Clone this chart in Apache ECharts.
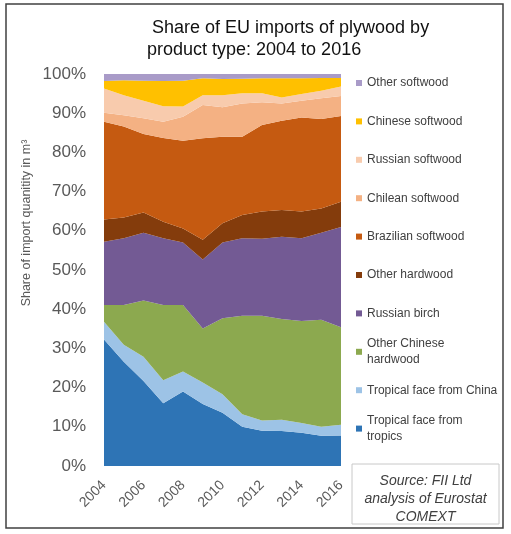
<!DOCTYPE html>
<html>
<head>
<meta charset="utf-8">
<title>Share of EU imports of plywood by product type: 2004 to 2016</title>
<script src="https://cdn.jsdelivr.net/npm/echarts@6/dist/echarts.min.js"></script>
<style>
html, body { margin: 0; padding: 0; background: #fff; }
#chart { width: 511px; height: 534px; }
</style>
</head>
<body>
<div id="chart"></div>
<script>
var FONT = '"Liberation Sans", Arial, sans-serif';

// categories
var years = ['2004', '2005', '2006', '2007', '2008', '2009', '2010',
             '2011', '2012', '2013', '2014', '2015', '2016'];

// shares of import quantity, % (bottom band first)
var tropicalFaceFromTropics = [32.3, 26.6, 21.7, 16.0, 19.0, 15.8, 13.6, 10.0, 9.0, 8.9, 8.5, 7.7, 7.8];
var tropicalFaceFromChina   = [4.5, 4.3, 6.2, 5.9, 5.1, 5.5, 4.7, 3.2, 2.6, 2.9, 2.5, 2.3, 2.7];
var otherChineseHardwood    = [4.3, 10.2, 14.3, 19.2, 17.0, 13.8, 19.4, 25.1, 26.7, 25.7, 26.0, 27.3, 24.9];
var russianBirch            = [16.1, 17.0, 17.3, 17.0, 15.9, 17.6, 19.3, 19.8, 19.7, 21.0, 21.1, 22.2, 25.6];
var otherHardwood           = [5.7, 5.3, 5.2, 4.2, 3.6, 5.0, 4.9, 5.9, 6.9, 6.8, 6.8, 6.2, 6.4];
var brazilianSoftwood       = [24.9, 23.2, 20.0, 21.4, 22.4, 25.9, 22.1, 20.0, 22.1, 22.8, 24.0, 22.8, 21.9];
var chileanSoftwood         = [2.3, 2.9, 4.0, 4.1, 6.1, 8.5, 7.5, 8.5, 5.8, 4.4, 4.3, 5.3, 5.1];
var russianSoftwood         = [6.2, 5.1, 4.5, 4.0, 2.6, 2.5, 3.1, 2.6, 2.3, 1.5, 1.7, 1.9, 2.4];
var chineseSoftwood         = [1.9, 3.8, 5.1, 6.4, 6.6, 4.3, 4.1, 3.7, 3.8, 4.9, 4.0, 3.3, 2.2];
var otherSoftwood           = [1.8, 1.6, 1.7, 1.8, 1.7, 1.1, 1.3, 1.2, 1.1, 1.1, 1.1, 1.0, 1.0];

// stacking order (bottom -> top)
var seriesNames = [
    'Tropical face from tropics', 'Tropical face from China', 'Other Chinese hardwood',
    'Russian birch', 'Other hardwood', 'Brazilian softwood', 'Chilean softwood',
    'Russian softwood', 'Chinese softwood', 'Other softwood'
];
var seriesData = [
    tropicalFaceFromTropics, tropicalFaceFromChina, otherChineseHardwood,
    russianBirch, otherHardwood, brazilianSoftwood, chileanSoftwood,
    russianSoftwood, chineseSoftwood, otherSoftwood
];
var seriesColors = [
    '#2e74b5', '#9dc3e6', '#8ca94f', '#735a94', '#843c0c',
    '#c55a11', '#f4b183', '#f8cbad', '#ffc000', '#a99bc8'
];

// legend reads top -> bottom, two names wrap
var wrapped = {
    'Other Chinese hardwood': 'Other Chinese\nhardwood',
    'Tropical face from tropics': 'Tropical face from\ntropics'
};
var legendNames = seriesNames.slice().reverse();

var legends = legendNames.map(function (name, i) {
    var centerY = 83 + i * 38.4;
    var isWrapped = !!wrapped[name];
    return {
        data: [name],
        left: 356,
        top: isWrapped ? centerY - 24 : centerY - 8,
        padding: 0,
        icon: 'rect',
        itemWidth: 6,
        itemHeight: 6,
        selectedMode: false,
        formatter: function (n) { return wrapped[n] || n; },
        textStyle: {
            fontFamily: FONT,
            fontSize: 12,
            color: '#404040',
            lineHeight: 16,
            padding: isWrapped ? [16, 0, 0, 0] : 0
        }
    };
});

var chart = echarts.init(document.getElementById('chart'), null, { renderer: 'canvas' });

var option = {
    backgroundColor: '#fff',
    animation: false,
    color: seriesColors,
    title: {
        text: ' Share of EU imports of plywood by\nproduct type: 2004 to 2016',
        left: 147,
        top: 17,
        padding: 0,
        textStyle: {
            fontFamily: FONT,
            fontSize: 18,
            fontWeight: 'normal',
            color: '#111',
            lineHeight: 22
        }
    },
    legend: legends,
    grid: { left: 104, right: 170, top: 74, bottom: 68, containLabel: false },
    xAxis: {
        type: 'category',
        data: years,
        boundaryGap: false,
        axisLine: { show: false },
        axisTick: { show: false },
        axisLabel: {
            interval: 1,
            rotate: 45,
            margin: 17,
            fontFamily: FONT,
            fontSize: 14,
            color: '#595959'
        }
    },
    yAxis: {
        type: 'value',
        min: 0,
        max: 100,
        interval: 10,
        splitLine: { show: false },
        axisLine: { show: false },
        axisTick: { show: false },
        axisLabel: {
            formatter: '{value}%',
            margin: 18,
            fontFamily: FONT,
            fontSize: 17,
            color: '#595959'
        },
        name: 'Share of import quanitity in m\u00b3',
        nameLocation: 'middle',
        nameRotate: 90,
        nameGap: 71,
        nameTextStyle: {
            fontFamily: FONT,
            fontSize: 12.5,
            color: '#595959',
            padding: [0, 0, 0, 94]
        }
    },
    series: seriesNames.map(function (name, i) {
        return {
            name: name,
            type: 'line',
            stack: 'share',
            data: seriesData[i],
            symbol: 'none',
            silent: true,
            lineStyle: { width: 0 },
            itemStyle: { color: seriesColors[i] },
            areaStyle: { color: seriesColors[i], opacity: 1 },
            emphasis: { disabled: true }
        };
    }),
    graphic: [
        {
            type: 'rect',
            shape: { x: 6, y: 4, width: 497, height: 524 },
            style: { fill: 'none', stroke: '#404040', lineWidth: 1.5 },
            silent: true
        },
        {
            type: 'rect',
            shape: { x: 352, y: 464, width: 147, height: 60 },
            style: { fill: '#fff', stroke: '#c8c8c8', lineWidth: 1 },
            silent: true
        },
        {
            type: 'text',
            x: 425.5,
            y: 499,
            silent: true,
            style: {
                text: 'Source: FII Ltd\nanalysis of Eurostat\nCOMEXT',
                fontFamily: FONT,
                fontSize: 14,
                fontStyle: 'italic',
                lineHeight: 18,
                fill: '#404040',
                align: 'center',
                verticalAlign: 'middle'
            }
        }
    ]
};

chart.setOption(option);
</script>
</body>
</html>
